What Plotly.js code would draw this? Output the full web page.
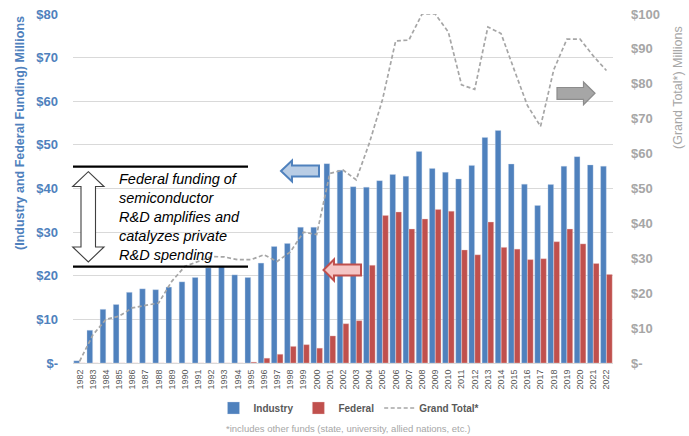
<!DOCTYPE html>
<html>
<head>
<meta charset="utf-8">
<script src="https://cdn.plot.ly/plotly-3.0.1.min.js"></script>
<style>html,body{margin:0;padding:0;background:#fff;}#chart{width:689px;height:436px;}</style>
</head>
<body>
<div id="chart"></div>
<script>
const years = ["1982","1983","1984","1985","1986","1987","1988","1989","1990","1991","1992","1993","1994","1995","1996","1997","1998","1999","2000","2001","2002","2003","2004","2005","2006","2007","2008","2009","2010","2011","2012","2013","2014","2015","2016","2017","2018","2019","2020","2021","2022"];
const industry = [0.5,7.5,12.3,13.4,16.2,17.0,16.8,17.4,18.6,19.6,21.8,22.2,20.2,19.6,22.9,26.7,27.4,31.1,31.1,45.7,44.2,40.4,40.3,41.8,43.2,42.8,48.5,44.6,43.7,42.2,45.3,51.7,53.3,45.6,41.0,36.1,40.9,45.1,47.3,45.4,45.1];
const federal = [0,0,0,0,0,0,0,0,0,0,0,0,0,0.2,1.1,2.0,3.8,4.2,3.4,6.2,9.0,9.7,22.4,33.8,34.6,30.7,33.0,35.2,34.8,25.9,24.8,32.3,26.5,26.1,23.7,23.9,27.8,30.7,27.3,22.8,20.3];
const grandTotal = [0.5,8,12.5,13.4,15.8,16.4,17.2,23.4,27.7,29.1,30.5,30.4,29.6,29.6,31,29.1,31.8,37.5,36.8,54.3,55.3,52.5,63,75.5,92.3,92.5,100,100,94.8,79.7,78.4,96.3,94.4,84,73.8,67.8,84,92.8,92.8,88,83.8];
const leftTickVals = [0,10,20,30,40,50,60,70,80];
const leftTickText = ["$-","$10","$20","$30","$40","$50","$60","$70","$80"];
const rightTickVals = [0,10,20,30,40,50,60,70,80,90,100];
const rightTickText = ["$-","$10","$20","$30","$40","$50","$60","$70","$80","$90","$100"];
const noteLines = ["Federal funding of","semiconductor","R&D amplifies and","catalyzes private","R&D spending"];

// pixel -> paper helpers (plot area 73..613 x 14..363)
const L = 73, R = 613, T = 14, B = 363;
const X = p => (p - L) / (R - L);
const Y = p => (B - p) / (B - T);
const path = pts => 'M' + pts.map(p => X(p[0]).toFixed(5) + ',' + Y(p[1]).toFixed(5)).join('L') + 'Z';

const FONT = "Liberation Sans, Arial, sans-serif";

const traces = [
  {type:'bar', name:'Industry', x:years, y:industry, marker:{color:'#4F81BD', line:{color:'rgba(200,215,235,0.7)', width:0.5}}},
  {type:'bar', name:'Federal', x:years, y:federal, marker:{color:'#C0504D', line:{color:'rgba(235,200,200,0.7)', width:0.5}}},
  {type:'scatter', mode:'lines', name:'Grand Total*', x:years, y:grandTotal, yaxis:'y2', line:{color:'#A6A6A6', width:1.7, dash:'4px,2.5px'}}
];

const shapes = [
  {type:'line', xref:'paper', yref:'paper', x0:X(73), x1:X(248), y0:Y(166.7), y1:Y(166.7), line:{color:'#000', width:2.2}},
  {type:'line', xref:'paper', yref:'paper', x0:X(73), x1:X(248), y0:Y(266.7), y1:Y(266.7), line:{color:'#000', width:2.2}},
  {type:'path', xref:'paper', yref:'paper', path: path([[88.3,171.7],[104,186.5],[95.5,186.5],[95.5,247],[104,247],[88.3,262],[72.7,247],[81,247],[81,186.5],[72.7,186.5]]), fillcolor:'#FFFFFF', line:{color:'#404040', width:1.1}},
  {type:'path', xref:'paper', yref:'paper', path: path([[281,171],[292,160.5],[292,165.5],[319,165.5],[319,176.5],[292,176.5],[292,181.5]]), fillcolor:'#B9CDE5', line:{color:'#4F81BD', width:2}},
  {type:'path', xref:'paper', yref:'paper', path: path([[323.5,270],[334,259.5],[334,264.5],[361,264.5],[361,275.5],[334,275.5],[334,280.5]]), fillcolor:'#F5C6C5', line:{color:'#C0504D', width:2}},
  {type:'path', xref:'paper', yref:'paper', path: path([[595,93.3],[583.5,82],[583.5,87.5],[557,87.5],[557,99.3],[583.5,99.3],[583.5,104.7]]), fillcolor:'#A6A6A6', line:{color:'#8C8C8C', width:1.2}}
];

const noteY = [179.3,198.3,217.3,236.3,255.3];
const annotations = noteLines.map((t,i) => ({
  xref:'paper', yref:'paper', x:X(117), y:Y(noteY[i]), xanchor:'left', yanchor:'middle',
  text:t, showarrow:false, font:{family:FONT, size:14.5, color:'#000', style:'italic'}
}));
annotations.push({xref:'paper', yref:'paper', x:X(20), y:Y(133), xanchor:'center', yanchor:'middle', textangle:-90,
  text:'<b>(Industry and Federal Funding) Millions</b>', showarrow:false, font:{family:FONT, size:12.5, color:'#4F81BD'}});
annotations.push({xref:'paper', yref:'paper', x:X(678), y:Y(88), xanchor:'center', yanchor:'middle', textangle:-90,
  text:'(Grand Total*) Millions', showarrow:false, font:{family:FONT, size:12.5, color:'#A6A6A6'}});
annotations.push({xref:'paper', yref:'paper', x:X(348), y:Y(428), xanchor:'center', yanchor:'middle',
  text:'*includes other funds (state, university, allied nations, etc.)', showarrow:false, font:{family:FONT, size:9.5, color:'#A6A6A6'}});

const layout = {
  width:689, height:436,
  margin:{l:L, r:689-R, t:T, b:436-B, pad:0},
  paper_bgcolor:'#fff', plot_bgcolor:'#fff',
  font:{family:FONT},
  barmode:'group', bargap:0.1, bargroupgap:0.05,
  showlegend:true,
  legend:{orientation:'h', x:X(349), xanchor:'center', y:Y(408), yanchor:'middle', font:{family:FONT, size:10, color:'#595959', weight:'bold'}, traceorder:'normal', bgcolor:'rgba(0,0,0,0)'},
  xaxis:{type:'category', tickangle:-90, tickfont:{family:FONT, size:9, color:'#595959'}, showline:true, linecolor:'#D9D9D9', linewidth:1, ticks:'', showgrid:false, fixedrange:true, ticklabelstandoff:2},
  yaxis:{range:[0,80], tickvals:leftTickVals, ticktext:leftTickText, tickfont:{family:FONT, size:13, color:'#4F81BD', weight:'bold'}, showgrid:true, gridcolor:'#D9D9D9', gridwidth:1, zeroline:false, showline:false, ticks:'', ticklabelstandoff:14},
  yaxis2:{range:[0,100], overlaying:'y', side:'right', tickvals:rightTickVals, ticktext:rightTickText, tickfont:{family:FONT, size:13, color:'#A6A6A6', weight:'bold'}, showgrid:false, zeroline:false, showline:false, ticks:'', ticklabelstandoff:17},
  shapes:shapes,
  annotations:annotations
};

Plotly.newPlot('chart', traces, layout, {displayModeBar:false, staticPlot:true});
</script>
</body>
</html>
